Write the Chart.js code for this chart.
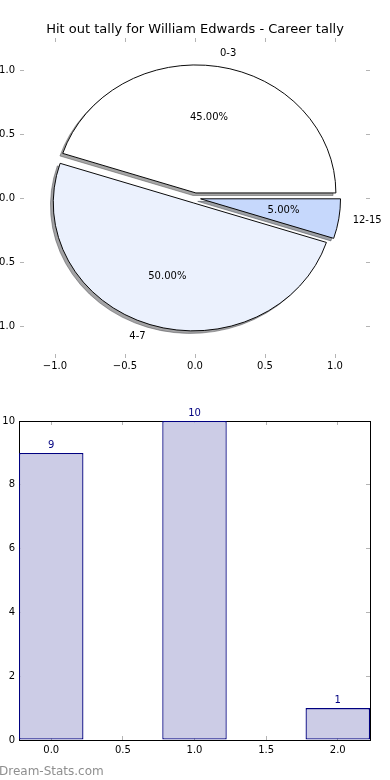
<!DOCTYPE html>
<html>
<head>
<meta charset="utf-8">
<script src="https://cdn.jsdelivr.net/npm/chart.js@4/dist/chart.umd.min.js"></script>
<style>
html,body{margin:0;padding:0;background:#fff;}
#wrap{position:relative;width:390px;height:780px;overflow:hidden;background:#fff;}
canvas{position:absolute;left:0;}
#pieAxes,#pie{top:0;}
#bar{top:390px;}
</style>
</head>
<body>
<div id="wrap">
<canvas id="pieAxes" width="390" height="395"></canvas>
<canvas id="pie" width="390" height="395"></canvas>
<canvas id="bar" width="390" height="390"></canvas>
</div>
<script>
// ---- data ----
const titleText = 'Hit out tally for William Edwards - Career tally';
const categories = ['0-3', '4-7', '12-15'];
const tallies = [9, 10, 1];
const barPositions = [0, 1, 2];
const pieTicks = [-1.0, -0.5, 0.0, 0.5, 1.0];
const barXTicks = [0.0, 0.5, 1.0, 1.5, 2.0];
const barYTicks = [0, 2, 4, 6, 8, 10];
const watermark = 'Dream-Stats.com';

// ---- style ----
const pieColors = ['#ffffff', '#ebf1fd', '#c6d8fc'];
const explode = [0.04, 0.04, 0.04];
const shadowOffset = [-0.02, -0.02];
const labelDistance = 1.1;
const pctDistance = 0.6;
const barWidth = 0.45;
const barFill = '#cccce6';
const barEdge = '#000080';
const tickMarkColor = '#b4b4b4';
const FONT = "'DejaVu Sans', sans-serif";

Chart.defaults.font.family = FONT;
Chart.defaults.font.size = 10;
Chart.defaults.color = '#000';

function fmt1(v) {
  const s = Math.abs(v).toFixed(1);
  return (v < -1e-9 ? '\u2212' : '') + s;
}

function axis(pos, min, max, ticks, showLabels, pad, size, border, formatter) {
  const vertical = (pos === 'left' || pos === 'right');
  return {
    type: 'linear',
    position: pos,
    min: min,
    max: max,
    offset: false,
    z: 1,
    afterBuildTicks: s => { s.ticks = ticks.map(v => ({ value: v })); },
    afterFit: s => { if (vertical) s.width = size; else s.height = size; },
    grid: { display: true, drawOnChartArea: false, drawTicks: true, tickLength: -4, tickColor: tickMarkColor, tickWidth: 1, offset: false },
    border: { display: border, color: '#000', width: 1 },
    ticks: { display: showLabels, padding: pad, color: '#000', font: { size: 10 }, autoSkip: false, maxRotation: 0, callback: v => formatter(v) }
  };
}

// ---- pie axes ----
const axesChart = new Chart(document.getElementById('pieAxes'), {
  type: 'scatter',
  data: { datasets: [] },
  options: {
    responsive: false, animation: false, events: [], devicePixelRatio: 1,
    layout: { padding: 0, autoPadding: false },
    plugins: {
      legend: { display: false }, tooltip: { enabled: false },
      title: { display: true, text: titleText, color: '#000', font: { size: 13, weight: 'normal', lineHeight: 1.2 }, padding: { top: 22, bottom: 0 } }
    },
    scales: {
      x: axis('bottom', -1.25, 1.25, pieTicks, true, 6, 37, false, fmt1),
      x2: axis('top', -1.25, 1.25, pieTicks, false, 0, 0.4, false, fmt1),
      y: axis('left', -1.25, 1.25, pieTicks, true, 9, 20, false, fmt1),
      y2: axis('right', -1.25, 1.25, pieTicks, false, 0, 20, false, fmt1)
    }
  }
});

function pieGeom() {
  const xs = axesChart.scales.x, ys = axesChart.scales.y;
  const cx = xs.getPixelForValue(0), cy = ys.getPixelForValue(0);
  return { xs, ys, cx, cy, rx: xs.getPixelForValue(1) - cx, ry: cy - ys.getPixelForValue(1) };
}

function shadowColor(hex) {
  const n = parseInt(hex.slice(1), 16);
  const r = (n >> 16) & 255, g = (n >> 8) & 255, b = n & 255;
  return 'rgba(' + Math.round(r * 0.3) + ',' + Math.round(g * 0.3) + ',' + Math.round(b * 0.3) + ',0.5)';
}

const total = tallies.reduce((a, b) => a + b, 0);

const mplPie = {
  id: 'mplPie',
  beforeDatasetsDraw(chart) {
    const ctx = chart.ctx;
    const arcs = chart.getDatasetMeta(0).data;
    const g = pieGeom();
    const R = arcs[0].outerRadius;
    ctx.save();
    ctx.translate(g.cx, g.cy);
    ctx.scale(g.rx / R, -g.ry / R);
    ctx.translate(-arcs[0].x, -arcs[0].y);
    arcs.forEach((arc, i) => {
      const m = (arc.startAngle + arc.endAngle) / 2;
      const o = arc.options;
      const sc = shadowColor(pieColors[i]);
      arc.options = Object.assign({}, o, { backgroundColor: sc, borderColor: sc });
      ctx.save();
      ctx.translate((Math.cos(m) * explode[i] + shadowOffset[0]) * R, (Math.sin(m) * explode[i] + shadowOffset[1]) * R);
      arc.draw(ctx);
      ctx.restore();
      arc.options = o;
    });
    arcs.forEach((arc, i) => {
      const m = (arc.startAngle + arc.endAngle) / 2;
      ctx.save();
      ctx.translate(Math.cos(m) * explode[i] * R, Math.sin(m) * explode[i] * R);
      arc.draw(ctx);
      ctx.restore();
    });
    ctx.restore();
    return false;
  },
  afterDraw(chart) {
    const ctx = chart.ctx;
    const arcs = chart.getDatasetMeta(0).data;
    const g = pieGeom();
    ctx.save();
    ctx.fillStyle = '#000';
    ctx.font = '10px ' + FONT;
    ctx.textBaseline = 'middle';
    arcs.forEach((arc, i) => {
      const m = (arc.startAngle + arc.endAngle) / 2;
      const ex = Math.cos(m) * explode[i], ey = Math.sin(m) * explode[i];
      const lx = ex + labelDistance * Math.cos(m), ly = ey + labelDistance * Math.sin(m);
      ctx.textAlign = lx > 0 ? 'left' : 'right';
      ctx.fillText(categories[i], g.xs.getPixelForValue(lx), g.ys.getPixelForValue(ly));
      const px = ex + pctDistance * Math.cos(m), py = ey + pctDistance * Math.sin(m);
      ctx.textAlign = 'center';
      ctx.fillText((tallies[i] / total * 100).toFixed(2) + '%', g.xs.getPixelForValue(px), g.ys.getPixelForValue(py));
    });
    ctx.restore();
  }
};

const gInit = pieGeom();
new Chart(document.getElementById('pie'), {
  type: 'pie',
  data: {
    labels: categories,
    datasets: [{ data: tallies, backgroundColor: pieColors, borderColor: '#000', borderWidth: 1, radius: gInit.rx }]
  },
  options: {
    responsive: false, animation: false, events: [], devicePixelRatio: 1,
    rotation: 90,
    radius: gInit.rx,
    layout: { padding: 0, autoPadding: false },
    plugins: { legend: { display: false }, tooltip: { enabled: false }, title: { display: false } }
  },
  plugins: [mplPie]
});

// ---- bar chart ----
const gaps = [];
for (let i = 1; i < barPositions.length; i++) gaps.push(barPositions[i] - barPositions[i - 1]);
for (let i = 1; i < barXTicks.length; i++) gaps.push(barXTicks[i] - barXTicks[i - 1]);
const minGap = Math.min(...gaps);
const xMin = barPositions[0] - barWidth / 2;
const xMax = barPositions[barPositions.length - 1] + barWidth / 2;

const barLabels = {
  id: 'barLabels',
  afterDatasetsDraw(chart) {
    const ctx = chart.ctx;
    const meta = chart.getDatasetMeta(0);
    ctx.save();
    ctx.fillStyle = barEdge;
    ctx.font = '10px ' + FONT;
    ctx.textAlign = 'center';
    ctx.textBaseline = 'alphabetic';
    meta.data.forEach((bar, i) => {
      ctx.fillText(String(tallies[i]), bar.x, bar.y - 5);
    });
    ctx.restore();
  },
  afterDraw(chart) {
    const ctx = chart.ctx;
    ctx.save();
    ctx.fillStyle = '#8f8f8f';
    ctx.font = '12px ' + FONT;
    ctx.textAlign = 'left';
    ctx.textBaseline = 'alphabetic';
    ctx.fillText(watermark, -1, 385);
    ctx.restore();
  }
};

new Chart(document.getElementById('bar'), {
  type: 'bar',
  data: {
    datasets: [{
      data: barPositions.map((x, i) => ({ x: x, y: tallies[i] })),
      backgroundColor: barFill, borderColor: barEdge, borderWidth: 1.3, borderSkipped: false,
      inflateAmount: 0,
      categoryPercentage: 1, barPercentage: barWidth / minGap
    }]
  },
  options: {
    responsive: false, animation: false, events: [], devicePixelRatio: 1,
    layout: { padding: 0, autoPadding: false },
    plugins: { legend: { display: false }, tooltip: { enabled: false }, title: { display: false } },
    scales: {
      x: axis('bottom', xMin, xMax, barXTicks, true, 8, 40, true, fmt1),
      x2: axis('top', xMin, xMax, barXTicks, false, 0, 31, true, fmt1),
      y: axis('left', 0, 10, barYTicks, true, 8, 19, true, v => String(v)),
      y2: axis('right', 0, 10, barYTicks, false, 0, 20, true, v => String(v))
    }
  },
  plugins: [barLabels]
});
</script>
</body>
</html>
